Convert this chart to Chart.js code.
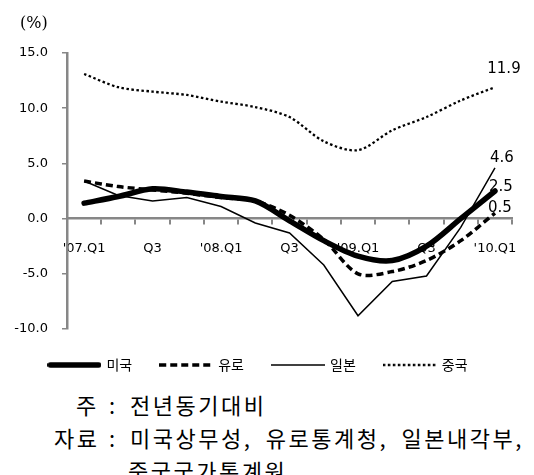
<!DOCTYPE html>
<html>
<head>
<meta charset="utf-8">
<script src="https://cdn.jsdelivr.net/npm/chart.js@4.4.0/dist/chart.umd.min.js"></script>
<style>
    html, body { margin: 0; padding: 0; background: #fff; }
    #wrap { position: relative; width: 534px; height: 475px; overflow: hidden; }
    #myLineChart { position: absolute; left: 0; top: 0; }
    .unit { position: absolute; left: 20px; top: 13px; font: 16px "DejaVu Serif", serif; color: #000; }
    .note { position: absolute; font-family: "Noto Sans CJK KR", sans-serif; font-size: 22px; line-height: 33px; color: #000; white-space: nowrap; }
    .txt { letter-spacing: 2.5px; word-spacing: 6px; }
</style>
</head>
<body>
<div id="wrap">
    <canvas id="myLineChart" width="534" height="382"></canvas>
    <div class="unit">(%)</div>
    <div class="note" style="left:76px; top:388px;">주</div>
    <div class="note" style="left:109px; top:388px;">:</div>
    <div class="note txt" style="left:130px; top:388px;">전년동기대비</div>
    <div class="note txt" style="left:54px; top:421px;">자료</div>
    <div class="note" style="left:109px; top:421px;">:</div>
    <div class="note txt" style="left:130px; top:421px;">미국상무성, 유로통계청, 일본내각부,</div>
    <div class="note txt" style="left:128px; top:454px;">중국국가통계원</div>
</div>
<script>
// 분기
var categories = ["'07.Q1", "Q2", "Q3", "Q4", "'08.Q1", "Q2", "Q3", "Q4", "'09.Q1", "Q2", "Q3", "Q4", "'10.Q1"];
var tickLabels = ["'07.Q1", "", "Q3", "", "'08.Q1", "", "Q3", "", "'09.Q1", "", "Q3", "", "'10.Q1"];
// 전년동기대비 성장률 (%)
var usValues = [1.4, 2.0, 2.7, 2.4, 2.0, 1.6, -0.2, -2.0, -3.4, -3.8, -2.5, 0.0, 2.5];
var euroValues = [3.4, 2.9, 2.6, 2.3, 1.9, 1.6, 0.3, -1.9, -5.0, -4.8, -3.8, -2.0, 0.5];
var japanValues = [3.4, 2.1, 1.6, 1.9, 1.1, -0.4, -1.3, -4.2, -8.8, -5.7, -5.2, -0.8, 4.6];
var chinaValues = [13.1, 11.9, 11.5, 11.2, 10.6, 10.1, 9.2, 7.0, 6.2, 8.0, 9.2, 10.7, 11.9];
var yMin = -10, yMax = 15, yStep = 5;

var gray = '#878787';

// 범례용 선 샘플 (점선 유지)
function makeSample(lineWidth, dash, cap) {
    var c = document.createElement('canvas');
    c.width = 54;
    c.height = 8;
    var g = c.getContext('2d');
    g.strokeStyle = '#000';
    g.lineWidth = lineWidth;
    g.lineCap = cap;
    g.setLineDash(dash);
    var inset = cap === 'round' ? lineWidth / 2 : 0;
    g.beginPath();
    g.moveTo(inset, 4);
    g.lineTo(c.width - inset, 4);
    g.stroke();
    return c;
}

// 마지막 분기 값 표시
var endLabels = {
    id: 'endLabels',
    afterDatasetsDraw: function (chart) {
        var ctx = chart.ctx;
        ctx.save();
        ctx.font = '15px "DejaVu Sans"';
        ctx.fillStyle = '#000';
        ctx.textAlign = 'center';
        ctx.textBaseline = 'middle';
        chart.data.datasets.forEach(function (ds, i) {
            var meta = chart.getDatasetMeta(i);
            var last = meta.data[meta.data.length - 1];
            var v = ds.data[ds.data.length - 1];
            ctx.fillText(v.toFixed(1), last.x + ds.labelDx, last.y + ds.labelDy);
        });
        ctx.restore();
    }
};

function buildLineChart() {
    var data = {
        labels: categories,
        datasets: [
            {
                label: '미국',
                data: usValues,
                borderColor: '#000',
                borderWidth: 5.5,
                borderCapStyle: 'round',
                tension: 0.3,
                pointStyle: makeSample(5.5, [], 'round'),
                labelDx: 6, labelDy: -4,
            },
            {
                label: '유로',
                data: euroValues,
                borderColor: '#000',
                borderWidth: 3.5,
                borderDash: [7, 4],
                tension: 0.3,
                pointStyle: makeSample(3.5, [7, 4], 'butt'),
                labelDx: 5, labelDy: -5,
            },
            {
                label: '일본',
                data: japanValues,
                borderColor: '#000',
                borderWidth: 1.5,
                tension: 0,
                pointStyle: makeSample(1.5, [], 'butt'),
                labelDx: 7, labelDy: -10,
            },
            {
                label: '중국',
                data: chinaValues,
                borderColor: '#000',
                borderWidth: 2.3,
                borderDash: [2.5, 2.5],
                tension: 0.3,
                pointStyle: makeSample(2.3, [2.5, 2.5], 'butt'),
                labelDx: 9, labelDy: -18,
            },
        ],
    };

    var options = {
        responsive: false,
        animation: false,
        layout: { padding: { top: 53, right: 17, left: 0, bottom: 0 } },
        elements: { point: { radius: 0, hoverRadius: 0 } },
        plugins: {
            tooltip: { enabled: false },
            legend: {
                position: 'bottom',
                labels: {
                    usePointStyle: true,
                    pointStyleWidth: 50,
                    padding: 29,
                    color: '#000',
                    font: { family: '"Noto Sans CJK KR"', size: 14 },
                },
            },
        },
        scales: {
            x: {
                type: 'category',
                position: { y: 0 },
                offset: true,
                grid: { offset: true, drawOnChartArea: false, tickLength: 5, color: gray, lineWidth: 2 },
                border: { color: gray, width: 2.5 },
                ticks: {
                    autoSkip: false,
                    maxRotation: 0,
                    padding: 17,
                    color: '#000',
                    font: { family: '"DejaVu Sans"', size: 13 },
                    callback: function (val, index) { return tickLabels[index]; },
                },
            },
            y: {
                min: yMin,
                max: yMax,
                afterFit: function (scale) { scale.width = 67; },
                grid: { drawOnChartArea: false, tickLength: 5, color: gray, lineWidth: 1.5 },
                border: { color: gray, width: 2.5 },
                ticks: {
                    stepSize: yStep,
                    padding: 14,
                    color: '#000',
                    font: { family: '"DejaVu Sans"', size: 13 },
                    callback: function (v) { return v.toFixed(1); },
                },
            },
        },
    };

    var ctx = document.getElementById('myLineChart').getContext('2d');
    new Chart(ctx, { type: 'line', data: data, options: options, plugins: [endLabels] });
}

buildLineChart();
</script>
</body>
</html>
